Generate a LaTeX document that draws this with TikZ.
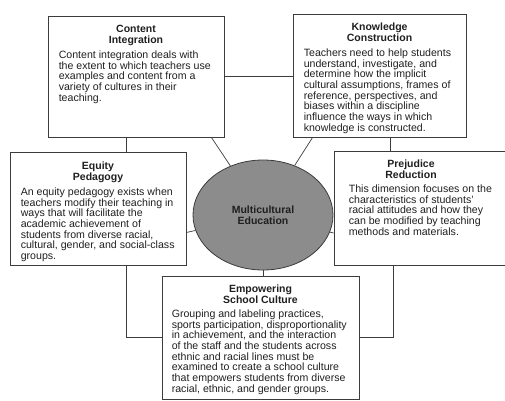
\documentclass[tikz,border=0pt]{standalone}
\usepackage{fontspec}
\setmainfont{Liberation Sans}
\usetikzlibrary{positioning,shapes.geometric}
\definecolor{linegray}{HTML}{3C3C3C}
\definecolor{hubgray}{HTML}{8C8C8C}

\begin{document}
\begin{tikzpicture}[x=1pt,y=-1pt,
    every node/.style={inner sep=0pt,text=black!88},
    dimbox/.style={draw=linegray,line width=0.8pt,rectangle},
    dimtitle/.style={align=center,font=\fontsize{10.5}{11}\selectfont\bfseries},
    dimtext/.style={align=left,font=\fontsize{10.6}{10.7}\selectfont},
    link/.style={draw=linegray,line width=0.7pt}]
  \useasboundingbox (0,0) rectangle (505,400);

  % the five dimensions
  \node [dimbox,minimum width=176pt,minimum height=121pt] (ci) at (136,76.5) {};
  \node [dimbox,minimum width=173pt,minimum height=123pt] (kc) at (379.5,75.5) {};
  \node [dimbox,minimum width=176pt,minimum height=113pt] (eq) at (98,208.5) {};
  \node [dimbox,minimum width=172pt,minimum height=114pt] (pr) at (420,208) {};
  \node [dimbox,minimum width=197pt,minimum height=123pt] (em) at (260.5,337.5) {};
  \node [ellipse,draw=linegray,line width=0.8pt,fill=hubgray,minimum width=140pt,
    minimum height=110pt,dimtitle] (me) at (263,215) {Multicultural\\Education};

  \node [dimtitle,below=9pt of ci.north] (cititle) {Content\\Integration};
  \node [dimtext,below right=35pt and 11pt of ci.north west] (citext)
    {Content integration deals with\\the extent to which teachers use\\examples and content from a\\
     variety of cultures in their\\teaching.};
  \node [dimtitle,below=9pt of kc.north] (kctitle) {Knowledge\\Construction};
  \node [dimtext,below right=35pt and 11pt of kc.north west] (kctext)
    {Teachers need to help students\\understand, investigate, and\\determine how the implicit\\
     cultural assumptions, frames of\\reference, perspectives, and\\biases within a discipline\\
     influence the ways in which\\knowledge is constructed.};
  \node [dimtitle,below=10pt of eq.north] (eqtitle) {Equity\\Pedagogy};
  \node [dimtext,below right=36pt and 11pt of eq.north west] (eqtext)
    {An equity pedagogy exists when\\teachers modify their teaching in\\ways that will facilitate the\\
     academic achievement of\\students from diverse racial,\\cultural, gender, and social-class\\groups.};
  \node [dimtitle,below=9pt of pr.north,xshift=-9pt] (prtitle) {Prejudice\\Reduction};
  \node [dimtext,below right=34pt and 15pt of pr.north west] (prtext)
    {This dimension focuses on the\\characteristics of students'\\racial attitudes and how they\\
     can be modified by teaching\\methods and materials.};
  \node [dimtitle,below=9pt of em.north] (emtitle) {Empowering\\School Culture};
  \node [dimtext,below right=34pt and 10pt of em.north west] (emtext)
    {Grouping and labeling practices,\\sports participation, disproportionality\\
     in achievement, and the interaction\\of the staff and the students across\\
     ethnic and racial lines must be\\examined to create a school culture\\
     that empowers students from diverse\\racial, ethnic, and gender groups.};

  % connectors
  \path [link] (ci.east) -- (ci.east -| kc.west);
  \path [link] ([xshift=-10pt]ci.south) -- ([xshift=-10pt]ci.south |- eq.north);
  \path [link] ([xshift=-13pt]ci.south east) -- (me);
  \path [link] ([xshift=20pt]kc.south west) -- (me);
  \path [link] ([xshift=10.5pt]kc.south) -- ([xshift=10.5pt]kc.south |- pr.north);
  \path [link] ([yshift=-24pt]eq.east) -- (me);
  \path [link] ([yshift=-25pt]pr.west) -- (me);
  \path [link] ([xshift=28pt]eq.south) |- (em.west);
  \path [link] ([xshift=-27pt]pr.south) |- (em.east);
  \path [link] (me.south) -- (me.south |- em.north);
\end{tikzpicture}
\end{document}
